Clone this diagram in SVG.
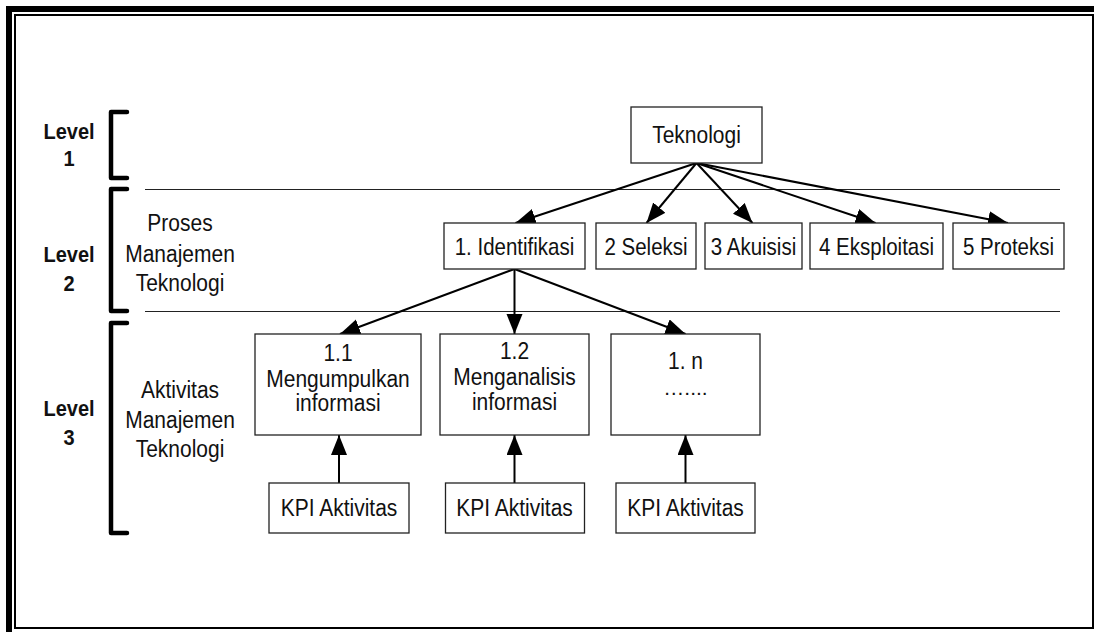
<svg xmlns="http://www.w3.org/2000/svg" width="1094" height="632" viewBox="0 0 1094 632">
  <style>
    .frame { fill: none; stroke: #000; }
    .box { fill: #fff; stroke: #222; stroke-width: 1.3; }
    .sep { stroke: #222; stroke-width: 1.2; }
    .brk { fill: none; stroke: #000; stroke-width: 4.5; stroke-linecap: round; stroke-linejoin: round; }
    .lnk { stroke: #000; stroke-width: 2; fill: none; marker-end: url(#ah); }
    text { font-family: "Liberation Sans", Arial, sans-serif; fill: #111; text-anchor: middle; }
    .lvl { font-weight: bold; font-size: 20px; }
    .lab { font-size: 21px; }
    .bt { font-size: 20.5px; }
    .bt3 { font-size: 21px; }
    .bt2 { font-size: 21px; }
  </style>
  <defs>
    <marker id="ah" markerUnits="userSpaceOnUse" markerWidth="21" markerHeight="17" refX="20" refY="8" orient="auto">
      <path d="M0,0 L20,8 L0,16 z" fill="#000"/>
    </marker>
  </defs>

  <rect width="1094" height="632" fill="#fff"/>

  <!-- double frame -->
  <path class="frame" d="M9,632 V9 H1094" stroke-width="6"/>
  <rect class="frame" x="15" y="15" width="1078" height="613" stroke-width="2"/>

  <!-- level brackets and labels -->
  <g id="level1">
    <path class="brk" d="M127,112 H111 V178 H127"/>
    <text class="lvl" transform="translate(69,139) scale(1,1.12)">Level</text>
    <text class="lvl" transform="translate(69,166) scale(1,1.12)">1</text>
  </g>
  <g id="level2">
    <path class="brk" d="M127,189 H111 V311 H127"/>
    <text class="lvl" transform="translate(69,262) scale(1,1.12)">Level</text>
    <text class="lvl" transform="translate(69,291) scale(1,1.12)">2</text>
    <text class="lab" transform="translate(180,231) scale(1,1.15)">Proses</text>
    <text class="lab" transform="translate(180,262) scale(1,1.15)">Manajemen</text>
    <text class="lab" transform="translate(180,291) scale(1,1.15)">Teknologi</text>
  </g>
  <g id="level3">
    <path class="brk" d="M127,323 H111 V533 H127"/>
    <text class="lvl" transform="translate(69,416) scale(1,1.12)">Level</text>
    <text class="lvl" transform="translate(69,445) scale(1,1.12)">3</text>
    <text class="lab" transform="translate(180,398) scale(1,1.15)">Aktivitas</text>
    <text class="lab" transform="translate(180,428) scale(1,1.15)">Manajemen</text>
    <text class="lab" transform="translate(180,457) scale(1,1.15)">Teknologi</text>
  </g>

  <!-- level separators -->
  <g id="separators">
    <line class="sep" x1="145" y1="189.5" x2="1060" y2="189.5"/>
    <line class="sep" x1="145" y1="311.5" x2="1060" y2="311.5"/>
  </g>

  <!-- connectors -->
  <g id="connectors">
    <line class="lnk" x1="696.5" y1="163" x2="515.5" y2="223"/>
    <line class="lnk" x1="696.5" y1="163" x2="646.5" y2="223"/>
    <line class="lnk" x1="696.5" y1="163" x2="752.5" y2="223"/>
    <line class="lnk" x1="696.5" y1="163" x2="875.5" y2="223"/>
    <line class="lnk" x1="696.5" y1="163" x2="1008" y2="223"/>
    <line class="lnk" x1="514.5" y1="269" x2="340" y2="334"/>
    <line class="lnk" x1="514.5" y1="269" x2="514.5" y2="334"/>
    <line class="lnk" x1="514.5" y1="269" x2="685.5" y2="334"/>
    <line class="lnk" x1="339" y1="483" x2="339" y2="435"/>
    <line class="lnk" x1="514.5" y1="483" x2="514.5" y2="435"/>
    <line class="lnk" x1="685.5" y1="483" x2="685.5" y2="435"/>
  </g>

  <!-- level 1 -->
  <g id="teknologi">
    <rect class="box" x="631" y="107" width="131" height="56"/>
    <text class="bt2" transform="translate(696.5,143) scale(1,1.15)">Teknologi</text>
  </g>

  <!-- level 2 processes -->
  <g id="identifikasi">
    <rect class="box" x="444" y="223" width="141" height="46"/>
    <text class="bt" transform="translate(514.5,255) scale(1,1.15)">1. Identifikasi</text>
  </g>
  <g id="seleksi">
    <rect class="box" x="596" y="223" width="100" height="46"/>
    <text class="bt" transform="translate(646,255) scale(1,1.15)">2 Seleksi</text>
  </g>
  <g id="akuisisi">
    <rect class="box" x="705" y="223" width="97" height="46"/>
    <text class="bt" transform="translate(753.5,255) scale(1,1.15)">3 Akuisisi</text>
  </g>
  <g id="eksploitasi">
    <rect class="box" x="810" y="223" width="133" height="46"/>
    <text class="bt" transform="translate(876.5,255) scale(1,1.15)">4 Eksploitasi</text>
  </g>
  <g id="proteksi">
    <rect class="box" x="953" y="223" width="111" height="46"/>
    <text class="bt" transform="translate(1008.5,255) scale(1,1.15)">5 Proteksi</text>
  </g>

  <!-- level 3 activities -->
  <g id="act-1-1">
    <rect class="box" x="255" y="334" width="166" height="101"/>
    <text class="bt3" transform="translate(338,361) scale(1,1.15)">1.1</text>
    <text class="bt3" transform="translate(338,387) scale(1,1.15)">Mengumpulkan</text>
    <text class="bt3" transform="translate(338,411) scale(1,1.15)">informasi</text>
  </g>
  <g id="act-1-2">
    <rect class="box" x="440" y="334" width="149" height="101"/>
    <text class="bt3" transform="translate(514.5,359) scale(1,1.15)">1.2</text>
    <text class="bt3" transform="translate(514.5,385) scale(1,1.15)">Menganalisis</text>
    <text class="bt3" transform="translate(514.5,410) scale(1,1.15)">informasi</text>
  </g>
  <g id="act-1-n">
    <rect class="box" x="611" y="334" width="149" height="101"/>
    <text class="bt3" transform="translate(685.5,369) scale(1,1.15)">1. n</text>
    <text class="bt3" x="685.5" y="395">…....</text>
  </g>

  <!-- activity KPIs -->
  <g id="kpi-1">
    <rect class="box" x="269" y="483" width="140" height="50"/>
    <text class="bt2" transform="translate(339,516) scale(1,1.15)">KPI Aktivitas</text>
  </g>
  <g id="kpi-2">
    <rect class="box" x="445.5" y="483" width="139" height="50"/>
    <text class="bt2" transform="translate(514.5,516) scale(1,1.15)">KPI Aktivitas</text>
  </g>
  <g id="kpi-3">
    <rect class="box" x="616" y="483" width="139" height="50"/>
    <text class="bt2" transform="translate(685.5,516) scale(1,1.15)">KPI Aktivitas</text>
  </g>
</svg>
